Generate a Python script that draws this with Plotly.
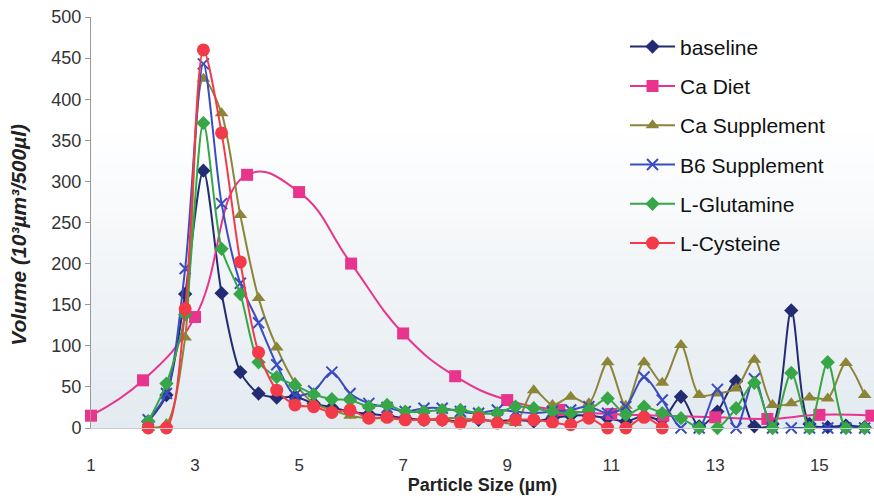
import plotly.graph_objects as go

# Particle size bins (µm) for the Coulter-type series
sizes = [2.10, 2.45, 2.81, 3.16, 3.51, 3.87, 4.22, 4.57, 4.92, 5.28,
         5.63, 5.98, 6.34, 6.69, 7.04, 7.40, 7.75, 8.10, 8.45, 8.81,
         9.16, 9.51, 9.87, 10.22, 10.57, 10.93, 11.28, 11.63, 11.98, 12.34,
         12.69, 13.04, 13.40, 13.75, 14.10, 14.46, 14.81, 15.16, 15.51, 15.87]

baseline = [8, 40, 163, 313, 164, 68, 42, 37, 38, 30,
            25, 20, 17, 15, 12, 10, 10, 8, 10, 8,
            10, 8, 12, 15, 15, 12, 8, 15, 10, 38,
            2, 20, 57, 2, 5, 143, 5, 1, 3, 1]

ca_diet_sizes = [1, 2, 3, 4, 5, 6, 7, 8, 9, 10, 11, 12, 13, 14, 15, 16]
ca_diet = [15, 58, 135, 308, 287, 200, 115, 63, 34, 22, 17, 15, 13, 11, 16, 15]

ca_supplement = [0, 5, 110, 425, 383, 259, 158, 98, 55, 30,
                 22, 15, 12, 12, 10, 10, 12, 12, 10, 8,
                 6, 46, 28, 38, 30, 80, 27, 80, 55, 101,
                 40, 42, 48, 83, 28, 30, 37, 36, 79, 40]

b6_supplement = [10, 42, 194, 443, 273, 176, 128, 77, 40, 45,
                 68, 42, 30, 25, 20, 24, 24, 20, 18, 22,
                 20, 18, 20, 22, 26, 18, 26, 62, 34, 0,
                 0, 47, 0, 60, 0, 0, 0, 0, 0, 0]

l_glutamine = [8, 54, 138, 371, 218, 163, 80, 62, 52, 41,
               35, 34, 26, 28, 20, 20, 22, 22, 18, 18,
               26, 24, 20, 18, 22, 36, 16, 26, 18, 12,
               0, 0, 24, 55, 0, 67, 0, 80, 0, 0]

l_cysteine = [0, 0, 145, 460, 359, 202, 92, 46, 28, 26,
              19, 22, 12, 13, 10, 10, 10, 6, 12, 6,
              10, 10, 7, 4, 12, 0, 0, 13, 0]

x_ticks = [1, 3, 5, 7, 9, 11, 13, 15]
y_ticks = [0, 50, 100, 150, 200, 250, 300, 350, 400, 450, 500]

series = [
    ("baseline", sizes, baseline, "#232c73", "diamond", 11, 0.8),
    ("Ca Diet", ca_diet_sizes, ca_diet, "#e8348c", "square", 12, 1.3),
    ("Ca Supplement", sizes, ca_supplement, "#8c8538", "triangle-up", 12, 0.8),
    ("B6 Supplement", sizes, b6_supplement, "#3a4cc0", "x-thin-open", 11, 0.8),
    ("L-Glutamine", sizes, l_glutamine, "#36a646", "diamond", 11, 0.8),
    ("L-Cysteine", sizes[:len(l_cysteine)], l_cysteine, "#f23a48", "circle", 13, 0.8),
]

fig = go.Figure()

# soft scan-like gradient in the lower plot area
n_bands = 30
for b in range(n_bands):
    y0 = b * 12
    a = 0.55 * (1 - b / n_bands)
    fig.add_shape(type="rect", xref="x", yref="y", x0=1, x1=16.05, y0=y0, y1=y0 + 12,
                  fillcolor=f"rgba(205,218,228,{a:.3f})", line_width=0, layer="below")

for i, (name, xs, ys, color, sym, msize, sm) in enumerate(series):
    marker = dict(symbol=sym, size=msize, color=color)
    if sym == "x-thin-open":
        marker["line"] = dict(color=color, width=2)
    fig.add_trace(go.Scatter(
        x=xs, y=ys, name=name, mode="lines+markers",
        line=dict(color=color, width=2, shape="spline", smoothing=sm),
        marker=marker, cliponaxis=False, legendgroup=f"g{i}",
    ))

fig.update_layout(
    width=874, height=498,
    margin=dict(l=91, r=0, t=17, b=70),
    paper_bgcolor="white", plot_bgcolor="white",
    font=dict(family="Liberation Sans, Arial, sans-serif", color="#222"),
    showlegend=True,
    legend=dict(x=0.682, y=0.977, xanchor="left", yanchor="top",
                bgcolor="rgba(0,0,0,0)", font=dict(size=21, color="#111"),
                traceorder="grouped", tracegroupgap=9, itemwidth=45),
    annotations=[dict(text="<b><i>Volume (10³µm³/500µl)</i></b>", textangle=-90,
                      xref="paper", yref="paper", x=-0.092, y=0.47,
                      xanchor="center", yanchor="middle", showarrow=False,
                      font=dict(size=21, color="#222"))],
)
fig.update_xaxes(range=[1, 16.05], tickvals=x_ticks, ticktext=[str(v) for v in x_ticks],
                 showgrid=False, zeroline=False, showline=True, linecolor="#c8ccd0",
                 linewidth=1, ticks="outside", ticklen=22, tickcolor="rgba(0,0,0,0)",
                 tickfont=dict(size=17, color="#333"),
                 title=dict(text="<b>Particle Size (µm)</b>", font=dict(size=18, color="#222"),
                            standoff=2))
fig.update_yaxes(range=[0, 500], tickvals=y_ticks, showgrid=False, zeroline=False,
                 showline=True, linecolor="#999", linewidth=1, ticks="outside",
                 ticklen=5, tickcolor="#999", tickfont=dict(size=18, color="#333"))

fig.write_html("out.html")
